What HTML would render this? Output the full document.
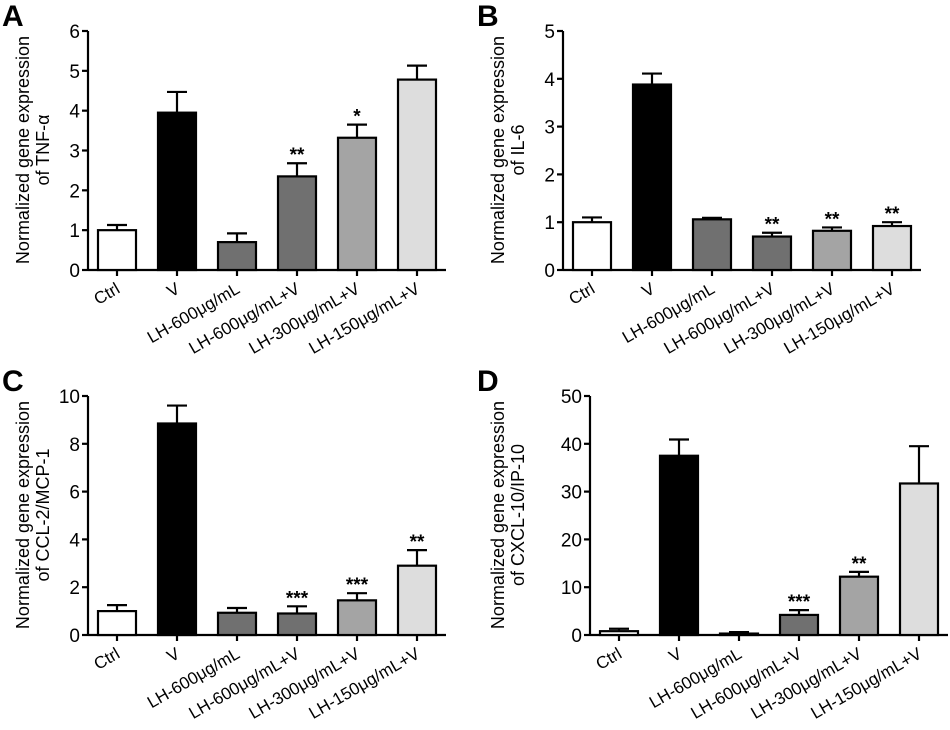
<!DOCTYPE html>
<html><head><meta charset="utf-8"><style>
body{margin:0;background:#fff}
svg{display:block;font-family:"Liberation Sans",Arial,sans-serif}
</style></head><body>
<svg id="fig" width="950" height="730" viewBox="0 0 950 730"></svg>
<script>
const categories=["Ctrl","V","LH-600μg/mL","LH-600μg/mL+V","LH-300μg/mL+V","LH-150μg/mL+V"];
const fills=["#ffffff","#000000","#707070","#707070","#a4a4a4","#dddddd"];
const valsA=[1,3.95,0.7,2.35,3.32,4.78];
const errA=[0.13,0.52,0.22,0.33,0.33,0.35];
const starsA=["","","","**","*",""];
const valsB=[1,3.88,1.06,0.7,0.82,0.92];
const errB=[0.1,0.23,0.03,0.08,0.07,0.08];
const starsB=["","","","**","**","**"];
const valsC=[1,8.85,0.93,0.9,1.45,2.9];
const errC=[0.25,0.75,0.2,0.3,0.3,0.65];
const starsC=["","","","***","***","**"];
const valsD=[0.8,37.5,0.3,4.2,12.2,31.7];
const errD=[0.5,3.4,0.3,1.0,1.0,7.8];
const starsD=["","","","***","**",""];
const ticksA=[0,1,2,3,4,5,6];
const ticksB=[0,1,2,3,4,5];
const ticksC=[0,2,4,6,8,10];
const ticksD=[0,10,20,30,40,50];
const NS="http://www.w3.org/2000/svg";
const svg=document.getElementById('fig');
function mk(tag,attrs,parent,text){const e=document.createElementNS(NS,tag);for(const k in attrs)e.setAttribute(k,attrs[k]);if(text!==undefined)e.textContent=text;(parent||svg).appendChild(e);return e;}
function panel(letter,ox,oy,ax,vals,errs,stars,ticks,ylab1,ylab2){
  const g=mk('g',{});
  
  
  const y0=oy+270,yTop=oy+31,max=ticks[ticks.length-1];
  const Y=v=>y0-(v/max)*(y0-yTop);
  const X=i=>ax+29+i*60;
  const t=mk('text',{x:ox+2,y:oy+26,style:'font-size:30px;font-weight:bold'},g,letter);
  
  
  const yl=mk('text',{transform:`translate(${ox+29},${oy+150}) rotate(-90)`,'text-anchor':'middle',style:'font-size:18px'},g);
  
  
  mk('tspan',{x:0,dy:0},yl,ylab1);mk('tspan',{x:0,dy:20},yl,ylab2);
  const axg=mk('g',{stroke:'#000','stroke-width':2.2},g);
  
  
  mk('line',{x1:ax,y1:yTop,x2:ax,y2:y0},axg);
  mk('line',{x1:ax,y1:y0,x2:ax+358,y2:y0},axg);
  ticks.forEach(v=>{
    mk('line',{x1:ax-6,y1:Y(v),x2:ax,y2:Y(v)},axg);
    const tl=mk('text',{x:ax-8,y:Y(v)+7,'text-anchor':'end',style:'font-size:19px'},g,v);
    
    
  });
  vals.forEach((v,i)=>{
    const cx=X(i),w=38;
    const e=errs[i],top=Y(v+e);
    const eb=mk('g',{stroke:'#000','stroke-width':2.2},g);
    
    
    mk('line',{x1:cx,y1:Y(v),x2:cx,y2:top},eb);
    mk('line',{x1:cx-10,y1:top,x2:cx+10,y2:top},eb);
    const r=mk('rect',{x:cx-w/2,y:Y(v),width:w,height:y0-Y(v),fill:fills[i],stroke:'#000','stroke-width':2.2},g);
    
    
    mk('line',{x1:cx,y1:y0,x2:cx,y2:y0+6,stroke:'#000','stroke-width':2.2},g);
    if(stars[i]){
      const s=mk('text',{x:cx,y:top-2,'text-anchor':'middle',style:'font-size:19px;font-weight:bold'},g,stars[i]);
      
      
    }
    const xl=mk('text',{transform:`translate(${cx+4},${y0+22}) rotate(-30)`,'text-anchor':'end',style:'font-size:17px'},g,categories[i]);
    
    
  });
}
panel('A',0,0,88,valsA,errA,starsA,ticksA,'Normalized gene expression','of TNF-α');
panel('B',475,0,563,valsB,errB,starsB,ticksB,'Normalized gene expression','of IL-6');
panel('C',0,365,88,valsC,errC,starsC,ticksC,'Normalized gene expression','of CCL-2/MCP-1');
panel('D',475,365,590,valsD,errD,starsD,ticksD,'Normalized gene expression','of  CXCL-10/IP-10');
</script>
</body></html>
